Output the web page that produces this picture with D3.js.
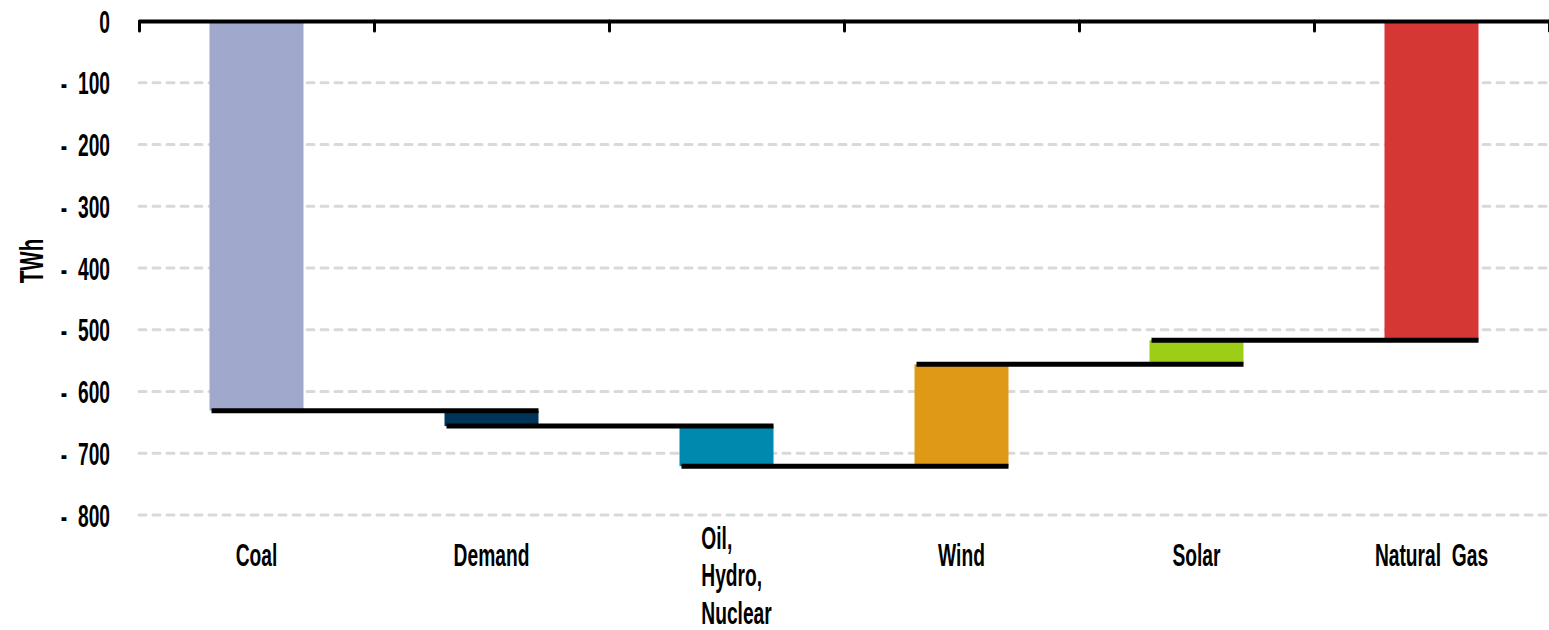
<!DOCTYPE html>
<html>
<head>
<meta charset="utf-8">
<script src="https://cdn.jsdelivr.net/npm/d3@7"></script>
<style>
  body { margin: 0; background: #fff; }
  text { font-family: "Liberation Sans", Arial, sans-serif; font-weight: bold; fill: #000; white-space: pre; }
</style>
</head>
<body>
<svg id="pic" width="1549" height="630"></svg>
<script>
var categories = ["Coal", "Demand", "Oil,\nHydro,\nNuclear", "Wind", "Solar", "Natural  Gas"];
var changes = [-631, -25, -65, 165, 39, 517];
var colors = ["#a0a9cb", "#00355a", "#0089ae", "#e09916", "#9dcd17", "#d53735"];
var yTicks = [0, -100, -200, -300, -400, -500, -600, -700, -800];

var svg = d3.select("#pic");
var squeeze = 0.62; // narrow the font to look condensed

// running totals for the waterfall
var start = [], end = [];
var total = 0;
changes.forEach(function(c){
  start.push(total);
  total += c;
  end.push(total);
});

//Scales
var x = d3.scaleBand().domain(categories).range([139, 1549]).padding(0);
var y = d3.scaleLinear().domain([0, -800]).range([21, 515]);
var barW = x.bandwidth() * 0.4;
var barX = function(i){ return x(categories[i]) + (x.bandwidth() - barW) / 2; };

//Gridlines
svg.append("g").selectAll("line")
  .data(yTicks.filter(function(d){ return d !== 0; }))
  .join("line")
  .attr("x1", 139).attr("x2", 1549)
  .attr("y1", function(d){ return y(d); }).attr("y2", function(d){ return y(d); })
  .attr("stroke", "#d9d9d9").attr("stroke-width", 3)
  .attr("stroke-dasharray", "7,7").attr("stroke-linecap", "round");

//Bars
svg.append("g").selectAll("rect")
  .data(changes)
  .join("rect")
  .attr("x", function(d, i){ return barX(i); })
  .attr("width", barW)
  .attr("y", function(d, i){ return y(Math.max(start[i], end[i])); })
  .attr("height", function(d, i){ return Math.abs(y(end[i]) - y(start[i])); })
  .attr("fill", function(d, i){ return colors[i]; });

//Connector lines at each bar's end
svg.append("g").selectAll("line")
  .data(end.slice(0, end.length - 1))
  .join("line")
  .attr("x1", function(d, i){ return barX(i) + 2; })
  .attr("x2", function(d, i){ return barX(i + 1) + barW; })
  .attr("y1", function(d){ return y(d); })
  .attr("y2", function(d){ return y(d); })
  .attr("stroke", "#000").attr("stroke-width", 5);

//Top axis at zero
var xt = d3.scaleLinear().domain([0, 6]).range([139, 1549]);
var xAxis = svg.append("g").attr("transform", "translate(0," + y(0) + ")")
  .call(d3.axisBottom(xt).ticks(6).tickSizeInner(10).tickSizeOuter(0).tickFormat(""));
xAxis.select(".domain").attr("stroke", "#000").attr("stroke-width", 4);
xAxis.selectAll(".tick line").attr("stroke", "#000").attr("stroke-width", 3).attr("stroke-linecap", "round");

//Y labels
var yAxis = svg.append("g").attr("transform", "translate(139,0)")
  .call(d3.axisLeft(y).tickValues(yTicks).tickSize(0)
    .tickFormat(function(d){ return d === 0 ? "0" : "-  " + (-d); }));
yAxis.select(".domain").remove();
yAxis.attr("font-family", null).attr("font-size", null);
yAxis.selectAll("text")
  .attr("x", -29 / squeeze)
  .attr("dy", "0.36em")
  .attr("transform", "scale(" + squeeze + ",1)")
  .style("font-size", "31px");

//Category labels
categories.forEach(function(c, i){
  var lines = c.split("\n");
  var cx = x(c) + x.bandwidth() / 2;
  var g = svg.append("g").attr("transform", "translate(" + cx + ",0) scale(" + squeeze + ",1)");
  var t = g.append("text").style("font-size", "31px");
  if (lines.length > 1) {
    lines.forEach(function(l, j){
      t.append("tspan").attr("x", 0).attr("y", 549 + j * 37.5).text(l);
    });
    var w = t.node().getBBox().width;
    t.selectAll("tspan").attr("x", -w / 2 + 10 / squeeze);
  } else {
    t.attr("text-anchor", "middle").attr("y", 566).text(c);
  }
});

//Axis title
svg.append("g").attr("transform", "translate(43,261) rotate(-90) scale(" + squeeze + ",1)")
  .append("text")
  .attr("text-anchor", "middle")
  .style("font-size", "33px")
  .text("TWh");
</script>
</body>
</html>
